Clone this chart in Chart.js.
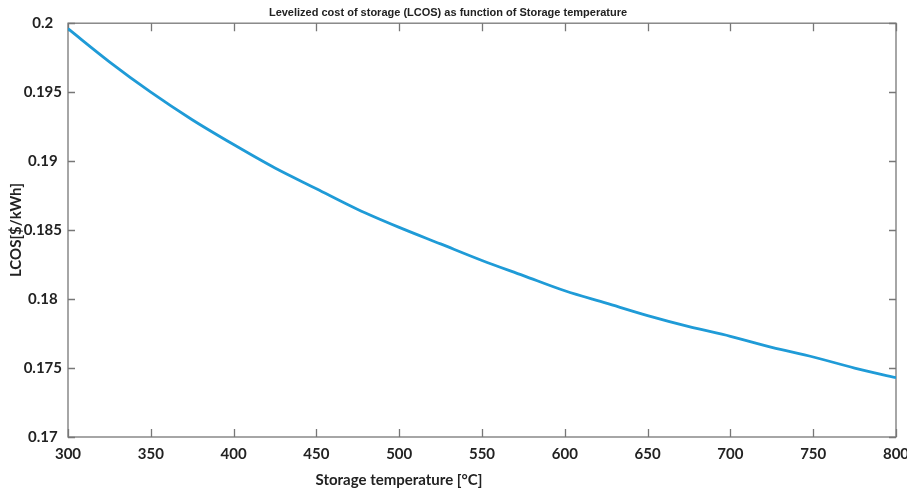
<!DOCTYPE html>
<html>
<head>
<meta charset="utf-8">
<script src="https://cdn.jsdelivr.net/npm/chart.js@4.4.1/dist/chart.umd.min.js"></script>
<style>
  html, body { margin: 0; padding: 0; background: #fff; }
  #wrap { width: 907px; height: 492px; }
</style>
</head>
<body>
<div id="wrap"><canvas id="lcos"></canvas></div>
<script>
// storage temperature [°C] and levelized cost of storage [$/kWh]
const temperatures = [300, 325, 350, 375, 400, 425, 450, 475, 500, 525, 550,
                      575, 600, 625, 650, 675, 700, 725, 750, 775, 800];
const lcosValues = [0.1996, 0.1972, 0.1950, 0.1930, 0.1912, 0.1895, 0.1880,
                    0.1865, 0.1852, 0.1840, 0.1828, 0.1817, 0.1806, 0.1797,
                    0.1788, 0.1780, 0.1773, 0.1765, 0.1758, 0.1750, 0.1743];
const xTicks = [300, 350, 400, 450, 500, 550, 600, 650, 700, 750, 800];
const yTicks = [0.17, 0.175, 0.18, 0.185, 0.19, 0.195, 0.2];

const points = temperatures.map((t, i) => ({ x: t, y: lcosValues[i] }));

const tickFont = { family: "Lato", weight: "bold", size: 15 };

// box around the plot with inward ticks on all four sides
const axesBox = {
  id: "axesBox",
  beforeDatasetsDraw(chart) {
    const { ctx, chartArea: a, scales } = chart;
    ctx.save();
    ctx.strokeStyle = "#777";
    ctx.lineWidth = 1.3;
    ctx.strokeRect(a.left, a.top, a.right - a.left, a.bottom - a.top);
    ctx.beginPath();
    xTicks.forEach(v => {
      const px = Math.round(scales.x.getPixelForValue(v)) + 0.5;
      ctx.moveTo(px, a.bottom); ctx.lineTo(px, a.bottom - 8);
      ctx.moveTo(px, a.top); ctx.lineTo(px, a.top + 8);
    });
    yTicks.forEach(v => {
      const py = Math.round(scales.y.getPixelForValue(v)) + 0.5;
      ctx.moveTo(a.left, py); ctx.lineTo(a.left + 7, py);
      ctx.moveTo(a.right, py); ctx.lineTo(a.right - 7, py);
    });
    ctx.stroke();
    ctx.restore();
  },
  afterDraw(chart) {
    const { ctx } = chart;
    ctx.save();
    ctx.font = "bold 15px Lato";
    ctx.fillStyle = "#222";
    ctx.textAlign = "center";
    ctx.textBaseline = "middle";
    ctx.fillText("Storage temperature [°C]", 399, 480);
    ctx.restore();
  }
};

new Chart(document.getElementById("lcos"), {
  type: "line",
  data: {
    datasets: [{
      data: points,
      borderColor: "#1f9bd7",
      borderWidth: 2.8,
      pointRadius: 0,
      cubicInterpolationMode: "monotone",
      fill: false
    }]
  },
  options: {
    responsive: true,
    maintainAspectRatio: false,
    animation: false,
    layout: { padding: { left: 0, right: 11, top: 0, bottom: 0 } },
    plugins: {
      legend: { display: false },
      tooltip: { enabled: false },
      title: {
        display: true,
        text: "Levelized cost of storage (LCOS) as function of Storage temperature",
        color: "#222",
        font: { family: "Liberation Sans", weight: "bold", size: 11 },
        padding: { top: 6, bottom: 4 }
      }
    },
    scales: {
      x: {
        type: "linear",
        min: 300,
        max: 800,
        afterFit(scale) {
          scale.height = 55;
          // let the end labels hang past the plot edges
          scale.paddingLeft = 0;
          scale.paddingRight = 0;
        },
        afterBuildTicks(scale) { scale.ticks = xTicks.map(v => ({ value: v })); },
        grid: { display: false, drawTicks: false },
        border: { display: false },
        ticks: { font: tickFont, color: "#222", padding: 8, maxRotation: 0 }
      },
      y: {
        min: 0.17,
        max: 0.2,
        afterFit(scale) { scale.width = 68; },
        afterBuildTicks(scale) { scale.ticks = yTicks.map(v => ({ value: v })); },
        grid: { display: false, drawTicks: false },
        border: { display: false },
        ticks: {
          font: tickFont,
          color: "#222",
          padding: 6,
          crossAlign: "center",
          callback: v => String(+v.toFixed(3))
        },
        title: {
          display: true,
          text: "LCOS[$/kWh]",
          color: "#222",
          font: { family: "Lato", weight: "bold", size: 15 },
          padding: { top: 7, bottom: 0 }
        }
      }
    }
  },
  plugins: [axesBox]
});
</script>
</body>
</html>
